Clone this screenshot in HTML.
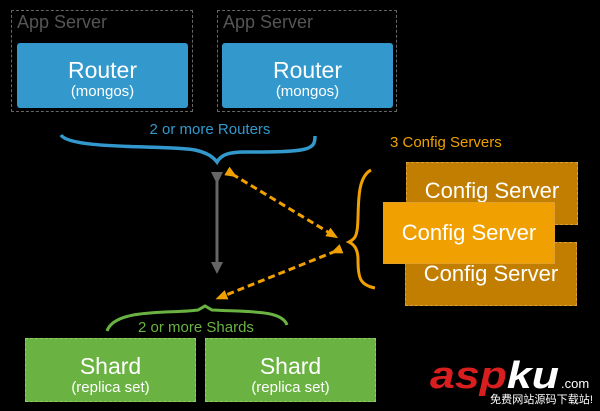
<!DOCTYPE html>
<html><head><style>
body{margin:0;background:#000;width:600px;height:411px;overflow:hidden;font-family:"Liberation Sans","DejaVu Sans",sans-serif;}
.a{position:absolute}
.box{position:absolute;color:#fff;text-align:center;box-sizing:border-box;border-radius:3px}
.t1{font-size:23px;line-height:25px}
.t2{font-size:15px;line-height:17px}
.app{position:absolute;border:1px dashed #666;box-sizing:border-box;color:#555;font-size:18px;line-height:20px;padding-left:5px;padding-top:1px}
.cfg{position:absolute;color:#fff;font-size:22px;border:1px dashed #d8a040;box-sizing:border-box;text-align:center;white-space:nowrap}
.sh{position:absolute;background:#6ab342;border:1px dashed #8ccf5e;box-sizing:border-box;color:#fff;text-align:center}
</style></head><body>
<div class="app" style="left:11px;top:10px;width:182px;height:102px">App Server</div>
<div class="app" style="left:217px;top:10px;width:180px;height:102px">App Server</div>
<div class="box" style="left:17px;top:43px;width:171px;height:65px;background:#3399cc;padding-top:15px"><div class="t1">Router</div><div class="t2">(mongos)</div></div>
<div class="box" style="left:222px;top:43px;width:171px;height:65px;background:#3399cc;padding-top:15px"><div class="t1">Router</div><div class="t2">(mongos)</div></div>
<div class="a" style="left:130px;top:121px;width:160px;text-align:center;color:#3399cc;font-size:15px">2 or more Routers</div>
<div class="a" style="left:390px;top:134px;color:#f0a000;font-size:15px">3 Config Servers</div>
<div class="cfg" style="left:406px;top:162px;width:172px;height:63px;background:#c27e00;padding-top:15px;">Config Server</div>
<div class="cfg" style="left:405px;top:242px;width:172px;height:64px;background:#c27e00;padding-top:18px;">Config Server</div>
<div class="cfg" style="left:383px;top:202px;width:172px;height:62px;background:#f0a000;padding-top:17px;">Config Server</div>
<div class="sh" style="left:25px;top:338px;width:171px;height:64px;padding-top:15px"><div class="t1">Shard</div><div class="t2">(replica set)</div></div>
<div class="sh" style="left:205px;top:338px;width:171px;height:64px;padding-top:15px"><div class="t1">Shard</div><div class="t2">(replica set)</div></div>
<div class="a" style="left:125px;top:319px;width:142px;text-align:center;color:#6ab342;font-size:15px">2 or more Shards</div>
<svg class="a" style="left:0;top:0" width="600" height="411">
<defs>
<marker id="g" markerWidth="12" markerHeight="12" refX="6" refY="6" orient="auto" markerUnits="userSpaceOnUse"><path d="M0,0 L12,6 L0,12z" fill="#666"/></marker>
<marker id="o" markerWidth="12" markerHeight="10" refX="6" refY="5" orient="auto" markerUnits="userSpaceOnUse"><path d="M0,0 L12,5 L0,10z" fill="#f0a000"/></marker>
</defs>
<path d="M61,135 C70,150 170,145 195,150 C208,153 213,157 217,162 C221,155 228,152 245,152 C310,152 315,150 315,136" fill="none" stroke="#3399cc" stroke-width="3.5"/>
<path d="M371,170 C352,180 362,225 355,237 C353,240 351,241 349,242 C355,245 358,250 358,260 C358,278 360,285 375,288" fill="none" stroke="#f0a000" stroke-width="3"/>
<path d="M107,331 C115,308 170,314 198,310 L205,306 L212,310 C250,312 282,310 287,325" fill="none" stroke="#6ab342" stroke-width="3"/>
<line x1="217" y1="178" x2="217" y2="268" stroke="#666" stroke-width="3" marker-start="url(#g)" marker-end="url(#g)"/>
<line x1="232" y1="174" x2="333" y2="235" stroke="#f0a000" stroke-width="3" stroke-dasharray="7,4" marker-start="url(#o)" marker-end="url(#o)"/>
<line x1="336" y1="251" x2="221" y2="297" stroke="#f0a000" stroke-width="3" stroke-dasharray="7,4" marker-start="url(#o)" marker-end="url(#o)"/>
<text x="430" y="388" font-family="Liberation Sans" font-style="italic" font-weight="bold" font-size="38" fill="#d81e1e" textLength="129" lengthAdjust="spacingAndGlyphs">asp<tspan fill="#fff">ku</tspan></text>
<text x="561" y="388" font-family="Liberation Sans" font-size="13" fill="#fff">.com</text>
<text x="490" y="403" font-family="Liberation Sans,Noto Sans CJK SC,sans-serif" font-size="11" fill="#fff" textLength="103" lengthAdjust="spacingAndGlyphs">免费网站源码下载站!</text>
</svg>
</body></html>
